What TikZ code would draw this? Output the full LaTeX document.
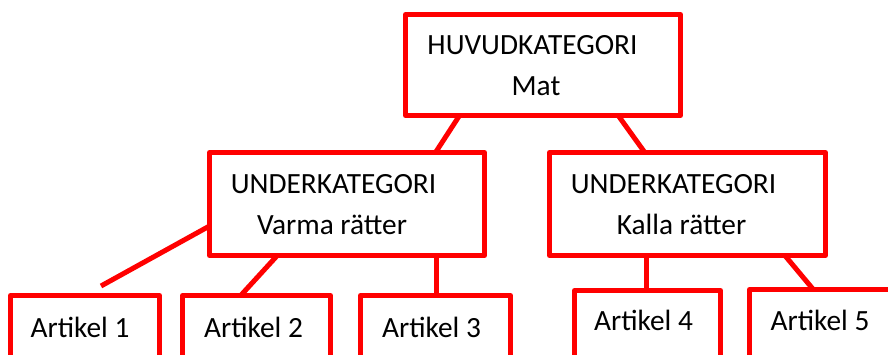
\documentclass[tikz,border=0pt]{standalone}
\usepackage{fontspec}
\setmainfont{Carlito}
\usetikzlibrary{calc}

\begin{document}
\begin{tikzpicture}[x=0.75pt,y=-0.75pt,
		box/.style={draw=red,line width=3.75pt,line join=round,inner sep=0pt,outer sep=0pt},
		txt/.style={anchor=base,inner sep=0pt,font=\fontsize{22}{26}\selectfont},
		link/.style={draw=red,line width=3.75pt}]
		\useasboundingbox (0,0) rectangle (888,354);
		\clip (0,0) rectangle (888,354);
		\node[box,minimum width=275*0.75pt,minimum height=101*0.75pt] (top) at (543,65) {};
		\node[box,minimum width=275*0.75pt,minimum height=103*0.75pt] (varma) at (347,204) {};
		\node[box,minimum width=276*0.75pt,minimum height=103*0.75pt] (kalla) at (687.5,204) {};
		\node[box,minimum width=149*0.75pt,minimum height=90*0.75pt] (art1) at (85,340.5) {};
		\node[box,minimum width=148*0.75pt,minimum height=90*0.75pt] (art2) at (256.5,340.5) {};
		\node[box,minimum width=150*0.75pt,minimum height=90*0.75pt] (art3) at (435.5,340.5) {};
		\node[box,minimum width=146*0.75pt,minimum height=90*0.75pt] (art4) at (647.5,335.5) {};
		\node[box,minimum width=151*0.75pt,minimum height=90*0.75pt] (art5) at (825,334.5) {};
		\node[txt] (topa) at (532.5,54) {HUVUDKATEGORI};
		\node[txt] (topb) at (536,95) {Mat};
		\node[txt] (varmaa) at (333.5,193) {UNDERKATEGORI};
		\node[txt] (varmab) at (332,234) {Varma rätter};
		\node[txt] (kallaa) at (673.5,193) {UNDERKATEGORI};
		\node[txt] (kallab) at (681.5,234) {Kalla rätter};
		\node[txt] (art1t) at (80,337) {Artikel 1};
		\node[txt] (art2t) at (253.5,337) {Artikel 2};
		\node[txt] (art3t) at (431.5,337) {Artikel 3};
		\node[txt] (art4t) at (643.5,330) {Artikel 4};
		\node[txt] (art5t) at (820,330) {Artikel 5};
		\coordinate (art1end) at ($(art1.north west)+(90.5,-9.5)$);
		\coordinate (varmafoot) at ($(varma.south west)+(226.5,0)$);
		\coordinate (kallafoot) at ($(kalla.south west)+(96.5,0)$);
		\draw[link] ($(top.south west)+(54,0)$) -- ($(varma.north west)+(226,0)$);
		\draw[link] ($(top.south west)+(212.7,0)$) -- ($(kalla.north west)+(95.3,0)$);
		\draw[link] ($(varma.west)+(0,22)$) -- (art1end);
		\draw[link] ($(varma.south west)+(67.8,0)$) -- ($(art2.north west)+(58.2,0)$);
		\draw[link] (varmafoot) -- (varmafoot |- art3.north);
		\draw[link] (kallafoot) -- (kallafoot |- art4.north);
		\draw[link] ($(kalla.south west)+(235.4,0)$) -- ($(art5.north west)+(63.8,0)$);
	\end{tikzpicture}
\end{document}
